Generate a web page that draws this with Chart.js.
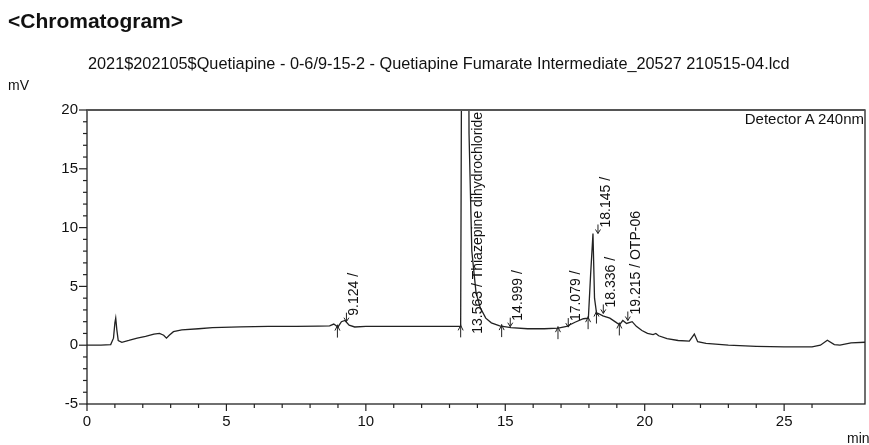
<!DOCTYPE html>
<html><head><meta charset="utf-8">
<script src="https://cdn.jsdelivr.net/npm/chart.js@4/dist/chart.umd.min.js"></script>
<style>
body{margin:0;background:#fff;}
#wrap{position:relative;width:869px;height:445px;overflow:hidden;font-family:"Liberation Sans",Arial,sans-serif;color:#111;}
canvas{position:absolute;left:0;top:0;}
.t{position:absolute;white-space:nowrap;line-height:1;}
</style></head><body>
<div id="wrap">
<canvas id="c" width="869" height="445"></canvas>
<div class="t" style="left:8px;top:10px;font-size:21px;font-weight:bold;">&lt;Chromatogram&gt;</div>
<div class="t" style="left:88px;top:55px;font-size:16.3px;">2021$202105$Quetiapine - 0-6/9-15-2 - Quetiapine Fumarate Intermediate_20527 210515-04.lcd</div>
<div class="t" style="left:8px;top:78px;font-size:14px;">mV</div>
<div class="t" style="left:847px;top:431px;font-size:14px;">min</div>
<div class="t" style="right:5px;top:111px;font-size:15px;">Detector A 240nm</div>
</div>
<script>
// ---- data (time in min, signal in mV) ----
const times = [0, 0.5, 0.85, 0.95, 1.0, 1.03, 1.07, 1.12, 1.25, 1.5, 1.8, 2.1, 2.4, 2.6, 2.75, 2.85, 2.95, 3.1, 3.4, 4.0, 4.5, 5.5, 6.5, 7.5, 8.3, 8.7, 8.85, 9.0, 9.124, 9.25, 9.4, 9.6, 10.0, 11, 12, 13, 13.4, 13.44, 13.5, 13.563, 13.63, 13.7, 13.8, 13.95, 14.1, 14.3, 14.5, 14.8, 15.2, 15.8, 16.4, 16.9, 17.2, 17.5, 17.8, 17.98, 18.06, 18.145, 18.2, 18.28, 18.336, 18.5, 18.75, 19.0, 19.1, 19.215, 19.35, 19.55, 19.7, 19.9, 20.1, 20.3, 20.4, 20.5, 20.8, 21.2, 21.6, 21.78, 21.9, 22.2, 23.0, 24.0, 25.0, 26.0, 26.3, 26.55, 26.8, 27.0, 27.4, 27.9];
const signal = [0, 0, 0.05, 0.6, 1.9, 2.3, 1.3, 0.4, 0.25, 0.4, 0.6, 0.75, 0.95, 1.0, 0.85, 0.6, 0.85, 1.15, 1.3, 1.4, 1.5, 1.55, 1.6, 1.6, 1.62, 1.65, 1.8, 1.55, 2.0, 2.1, 1.7, 1.55, 1.6, 1.6, 1.6, 1.6, 1.6, 30, 90, 120, 60, 18, 8, 4.5, 3.2, 2.3, 1.9, 1.65, 1.5, 1.4, 1.4, 1.45, 1.6, 1.95, 2.25, 2.3, 6, 9.5, 4, 2.6, 2.7, 2.5, 2.3, 1.9, 1.75, 2.1, 1.85, 2.0, 1.6, 1.25, 1.0, 0.9, 1.0, 0.8, 0.55, 0.4, 0.35, 0.95, 0.3, 0.15, 0.0, -0.1, -0.15, -0.15, 0.0, 0.42, 0.05, 0.0, 0.2, 0.25];
const peakTimes = [9.124, 13.563, 14.999, 17.079, 18.145, 18.336, 19.215];
const peakNames = ['9.124 /', '13.563 / Thiazepine dihydrochloride', '14.999 /', '17.079 /', '18.145 /', '18.336 /', '19.215 / OTP-06'];
const boundaryTimes = [8.98, 13.40, 14.87, 16.89, 17.97, 18.27, 19.09];
const xTickLabels = [0, 5, 10, 15, 20, 25];
const yTickLabels = [-5, 0, 5, 10, 15, 20];

const FONT = '"Liberation Sans", Arial, sans-serif';
const INK = '#222';

function valueAt(t) {
  for (let i = 1; i < times.length; i++) {
    if (t <= times[i]) {
      const f = (t - times[i-1]) / (times[i] - times[i-1]);
      return signal[i-1] + f * (signal[i] - signal[i-1]);
    }
  }
  return signal[signal.length - 1];
}

const decor = {
  id: 'decor',
  afterDatasetsDraw(chart) {
    const ctx = chart.ctx, ca = chart.chartArea;
    const xs = chart.scales.x, ys = chart.scales.y;
    ctx.save();
    // frame
    ctx.strokeStyle = INK; ctx.lineWidth = 1.3;
    ctx.strokeRect(ca.left, ca.top, ca.right - ca.left, ca.bottom - ca.top);
    ctx.strokeStyle = '#555'; ctx.lineWidth = 2;
    ctx.beginPath(); ctx.moveTo(ca.left, ca.top); ctx.lineTo(ca.right, ca.top); ctx.stroke();
    // ticks
    ctx.strokeStyle = INK; ctx.lineWidth = 1.2;
    xs.ticks.forEach(tk => {
      if (!Number.isInteger(tk.value)) return;
      const p = xs.getPixelForValue(tk.value);
      const len = xTickLabels.includes(tk.value) ? 7 : 4;
      ctx.beginPath(); ctx.moveTo(p, ca.bottom); ctx.lineTo(p, ca.bottom + len); ctx.stroke();
    });
    ys.ticks.forEach(tk => {
      if (!Number.isInteger(tk.value)) return;
      const p = ys.getPixelForValue(tk.value);
      const len = yTickLabels.includes(tk.value) ? 8 : 4;
      ctx.beginPath(); ctx.moveTo(ca.left, p); ctx.lineTo(ca.left - len, p); ctx.stroke();
    });
    // boundary markers (upward arrows)
    ctx.lineWidth = 1;
    boundaryTimes.forEach(t => {
      const px = xs.getPixelForValue(t), py = ys.getPixelForValue(Math.min(valueAt(t), 20));
      ctx.beginPath(); ctx.moveTo(px, py + 11); ctx.lineTo(px, py - 2); ctx.stroke();
      ctx.beginPath(); ctx.moveTo(px - 2.5, py + 4); ctx.lineTo(px, py - 1); ctx.lineTo(px + 2.5, py + 4); ctx.stroke();
    });
    // peak labels
    ctx.fillStyle = '#111';
    ctx.font = '14px ' + FONT;
    ctx.textBaseline = 'middle';
    ctx.textAlign = 'left';
    peakTimes.forEach((t, i) => {
      const v = valueAt(t);
      const px = xs.getPixelForValue(t);
      const pv = ys.getPixelForValue(Math.min(v, 20));
      const w = ctx.measureText(peakNames[i]).width;
      let base = pv - 6;
      if (base - w < ca.top + 2) base = ca.top + 2 + w;
      ctx.save();
      ctx.translate(px + 13, base);
      ctx.rotate(-Math.PI / 2);
      ctx.fillText(peakNames[i], 0, 0);
      ctx.restore();
      if (v < 20) {
        const ax = px + 5;
        ctx.beginPath(); ctx.moveTo(ax, pv - 9); ctx.lineTo(ax, pv); ctx.stroke();
        ctx.beginPath(); ctx.moveTo(ax - 2.5, pv - 4); ctx.lineTo(ax, pv); ctx.lineTo(ax + 2.5, pv - 4); ctx.stroke();
      }
    });
    ctx.restore();
  }
};

new Chart(document.getElementById('c'), {
  type: 'scatter',
  data: {
    datasets: [{
      data: times.map((t, i) => ({x: t, y: signal[i]})),
      showLine: true,
      borderColor: INK,
      borderWidth: 1.3,
      pointRadius: 0,
      tension: 0
    }]
  },
  options: {
    responsive: false,
    animation: false,
    layout: {padding: {top: 110, right: 4, left: 0, bottom: 0}},
    plugins: {legend: {display: false}, tooltip: {enabled: false}},
    scales: {
      x: {
        type: 'linear', min: 0, max: 27.9,
        afterFit(s) { s.height = 41; s.paddingLeft = 0; s.paddingRight = 0; },
        grid: {display: false, drawTicks: false},
        border: {display: false},
        ticks: {
          stepSize: 1, autoSkip: false, maxRotation: 0, padding: 9,
          color: '#111', font: {size: 15, family: FONT},
          callback: v => xTickLabels.includes(v) ? String(v) : ''
        }
      },
      y: {
        min: -5, max: 20,
        afterFit(s) { s.width = 87; s.paddingTop = 0; s.paddingBottom = 0; },
        grid: {display: false, drawTicks: false},
        border: {display: false},
        ticks: {
          stepSize: 1, autoSkip: false, padding: 9,
          color: '#111', font: {size: 15, family: FONT},
          callback: v => yTickLabels.includes(v) ? String(v) : ''
        }
      }
    }
  },
  plugins: [decor]
});
</script>
</body></html>
